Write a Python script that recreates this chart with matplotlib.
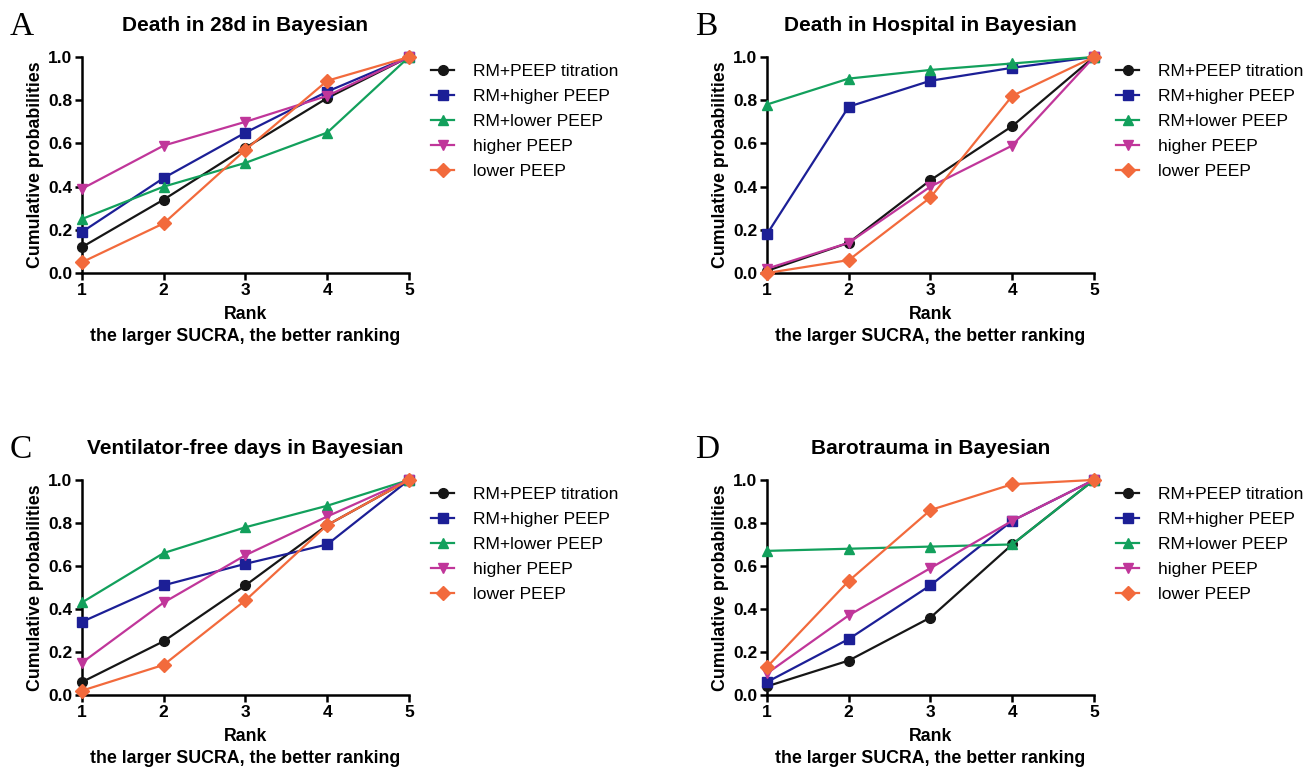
import matplotlib
matplotlib.use("Agg")
import matplotlib.pyplot as plt

plt.rcParams['font.family'] = ['Liberation Sans', 'DejaVu Sans']

ranks = [1, 2, 3, 4, 5]
treatments = ['RM+PEEP titration', 'RM+higher PEEP', 'RM+lower PEEP', 'higher PEEP', 'lower PEEP']
colors = ['#161616', '#1c1f96', '#12a05c', '#c0369a', '#f26a3c']
markers = ['o', 's', '^', 'v', 'D']

titles = ['Death in 28d in Bayesian', 'Death in Hospital in Bayesian',
          'Ventilator-free days in Bayesian', 'Barotrauma in Bayesian']
letters = ['A', 'B', 'C', 'D']

death_28d = [
    [0.12, 0.34, 0.58, 0.81, 1.0],
    [0.19, 0.44, 0.65, 0.84, 1.0],
    [0.25, 0.40, 0.51, 0.65, 1.0],
    [0.39, 0.59, 0.70, 0.82, 1.0],
    [0.05, 0.23, 0.57, 0.89, 1.0],
]
death_hospital = [
    [0.01, 0.14, 0.43, 0.68, 1.0],
    [0.18, 0.77, 0.89, 0.95, 1.0],
    [0.78, 0.90, 0.94, 0.97, 1.0],
    [0.02, 0.14, 0.40, 0.59, 1.0],
    [0.00, 0.06, 0.35, 0.82, 1.0],
]
vent_free = [
    [0.06, 0.25, 0.51, 0.79, 1.0],
    [0.34, 0.51, 0.61, 0.70, 1.0],
    [0.43, 0.66, 0.78, 0.88, 1.0],
    [0.15, 0.43, 0.65, 0.83, 1.0],
    [0.02, 0.14, 0.44, 0.79, 1.0],
]
barotrauma = [
    [0.04, 0.16, 0.36, 0.70, 1.0],
    [0.06, 0.26, 0.51, 0.81, 1.0],
    [0.67, 0.68, 0.69, 0.70, 1.0],
    [0.10, 0.37, 0.59, 0.81, 1.0],
    [0.13, 0.53, 0.86, 0.98, 1.0],
]
panels = [death_28d, death_hospital, vent_free, barotrauma]

# axes rectangles in figure fraction (left, bottom, width, height)
positions = [
    (0.0629, 0.6445, 0.251, 0.2813),
    (0.5886, 0.6445, 0.251, 0.2813),
    (0.0629, 0.0951, 0.251, 0.2800),
    (0.5886, 0.0951, 0.251, 0.2800),
]

fig = plt.figure(figsize=(13.03, 7.68), dpi=100)

for i, data in enumerate(panels):
    ax = fig.add_axes(positions[i])
    for j, series in enumerate(data):
        ax.plot(ranks, series, color=colors[j], marker=markers[j], markersize=7,
                linewidth=1.6, label=treatments[j], clip_on=False, zorder=3)
    ax.set_xlim(1, 5)
    ax.set_ylim(0, 1)
    ax.set_xticks(ranks)
    ax.set_yticks([0, 0.2, 0.4, 0.6, 0.8, 1.0])
    ax.set_yticklabels(['0.0', '0.2', '0.4', '0.6', '0.8', '1.0'])
    for s in ['top', 'right']:
        ax.spines[s].set_visible(False)
    for s in ['left', 'bottom']:
        ax.spines[s].set_linewidth(1.8)
    ax.tick_params(direction='out', length=5, width=1.8, labelsize=12.5, pad=2)
    for lab in ax.get_xticklabels() + ax.get_yticklabels():
        lab.set_fontweight('bold')
    ax.set_title(titles[i], fontsize=15, fontweight='bold', pad=19)
    ax.set_ylabel('Cumulative probabilities', fontsize=12.8, fontweight='bold', labelpad=3)
    ax.set_xlabel('Rank\nthe larger SUCRA, the better ranking', fontsize=12.8,
                  fontweight='bold', labelpad=6, linespacing=1.35)
    ax.legend(loc='upper left', bbox_to_anchor=(1.02, 1.04), frameon=False,
              fontsize=12.6, handlelength=1.3, handletextpad=1.1, labelspacing=0.55)
    ax.text(-0.22, 1.14, letters[i], transform=ax.transAxes, fontsize=24,
            family='Liberation Serif', va='center', ha='left')

fig.savefig('out.png', dpi=100)
